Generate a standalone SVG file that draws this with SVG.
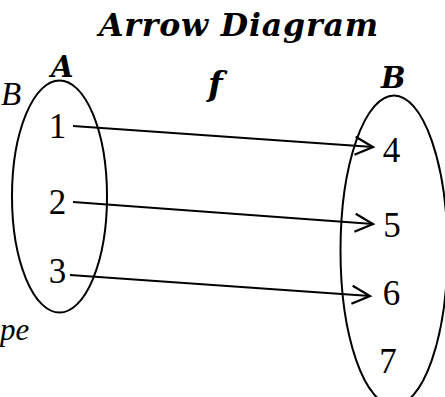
<svg xmlns="http://www.w3.org/2000/svg" width="445" height="397" viewBox="0 0 445 397">
<style>
.set{fill:none;stroke:#000;stroke-width:2}
.num{font-family:"Liberation Serif",serif;font-size:35px;fill:#000;text-anchor:middle}
.bi{font-family:"DejaVu Serif",serif;font-style:italic;font-weight:bold;font-size:29px;fill:#000}
.it{font-family:"Liberation Serif",serif;font-style:italic;font-size:33px;fill:#000}
.conn{fill:none;stroke:#000;stroke-width:2.2}
</style>
<defs>
<marker id="ah" markerWidth="26" markerHeight="26" viewBox="-22 -13 26 26" refX="0" refY="0" orient="auto" markerUnits="userSpaceOnUse">
<path d="M-18,-9 L0,0 L-18,9" fill="none" stroke="#000" stroke-width="2.2"/>
</marker>
</defs>
<rect width="445" height="397" fill="#fff"/>
<g id="title"><text class="bi" x="99" y="36" style="font-size:31.5px" textLength="279" lengthAdjust="spacing">Arrow Diagram</text></g>
<g id="label-f"><text class="bi" x="208" y="96" style="font-size:34px">f</text></g>
<g id="label-B-left"><text class="it" x="1" y="105">B</text></g>
<g id="label-pe"><text class="it" x="0" y="340" style="font-size:31px">pe</text></g>
<g id="setA">
<ellipse class="set" cx="59.5" cy="196.5" rx="47.5" ry="116"/>
<text class="bi" x="51" y="77">A</text>
</g>
<g id="setB">
<ellipse class="set" cx="394" cy="250.5" rx="53.5" ry="155"/>
<text class="bi" x="381" y="88">B</text>
</g>
<g id="a1"><text class="num" x="57.5" y="138">1</text></g>
<g id="a2"><text class="num" x="57.5" y="214">2</text></g>
<g id="a3"><text class="num" x="57.5" y="283">3</text></g>
<g id="b4"><text class="num" x="391.5" y="162">4</text></g>
<g id="b5"><text class="num" x="392" y="237">5</text></g>
<g id="b6"><text class="num" x="391.5" y="305">6</text></g>
<g id="b7"><text class="num" x="388" y="373">7</text></g>
<g id="connectors">
<line class="conn" x1="73" y1="126" x2="373" y2="147" marker-end="url(#ah)"/>
<line class="conn" x1="73" y1="202" x2="373" y2="224" marker-end="url(#ah)"/>
<line class="conn" x1="70" y1="275" x2="370" y2="296" marker-end="url(#ah)"/>
</g>
</svg>
